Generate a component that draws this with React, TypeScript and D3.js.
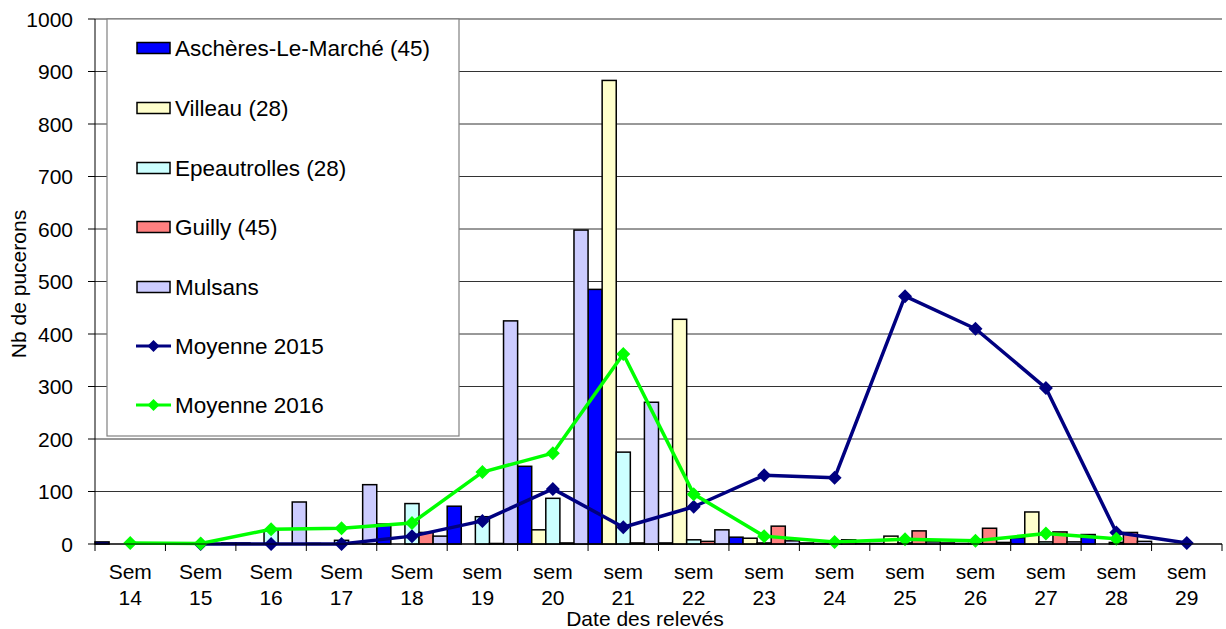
import React from "react";
import * as d3 from "d3";

const categories = ["Sem 14","Sem 15","Sem 16","Sem 17","Sem 18","sem 19","sem 20","sem 21","sem 22","sem 23","sem 24","sem 25","sem 26","sem 27","sem 28","sem 29"];

const seriesNames = ["Aschères-Le-Marché (45)","Villeau (28)","Epeautrolles (28)","Guilly (45)","Mulsans"];
const seriesColors = ["#0000FF","#FFFFCC","#CCFFFF","#FF8080","#CCCCFF"];

const aschereValues = [4, 1, 2, 1, 38, 72, 148, 485, 2, 13, 2, 1, 2, 12, 18, 0];
const villeauValues = [0, 0, 0, 0, 0, 0, 27, 883, 428, 11, 1, 15, 1, 61, 0, 0];
const epeautrollesValues = [0, 0, 26, 7, 77, 52, 87, 175, 8, 2, 1, 2, 1, 4, 3, 0];
const guillyValues = [0, 0, 0, 0, 22, 1, 2, 2, 5, 34, 8, 25, 30, 23, 22, 0];
const mulsansValues = [0, 2, 80, 113, 15, 425, 598, 270, 27, 6, 1, 4, 3, 4, 5, 0];

const moyenne2015: (number | null)[] = [null, 0, 0, 0, 15, 44, 105, 32, 71, 131, 126, 472, 410, 297, 22, 2];
const moyenne2016: (number | null)[] = [2, 1, 28, 30, 40, 137, 173, 362, 95, 15, 4, 9, 6, 20, 10, null];

const yTicks = [0, 100, 200, 300, 400, 500, 600, 700, 800, 900, 1000];

const barSeries = [aschereValues, villeauValues, epeautrollesValues, guillyValues, mulsansValues];

const FONT = "'Liberation Sans', Arial, sans-serif";

export default function App() {
  const left = 95, right = 1222, top = 19, bottom = 544;
  const x = d3.scaleBand<string>().domain(categories).range([left, right]).paddingInner(0).paddingOuter(0);
  const xs = d3.scaleBand<number>().domain(d3.range(seriesNames.length)).range([0, x.bandwidth()]).padding(0);
  const y = d3.scaleLinear().domain([0, 1000]).range([bottom, top]);

  const lineGen = d3.line<[number, number | null]>()
    .defined(d => d[1] !== null)
    .x(d => (x(categories[d[0]]) as number) + x.bandwidth() / 2)
    .y(d => y(d[1] as number));

  const diamond = (cx: number, cy: number, r: number) =>
    `M${cx},${cy - r}L${cx + r},${cy}L${cx},${cy + r}L${cx - r},${cy}Z`;

  const lines = [
    { name: "Moyenne 2015", data: moyenne2015, color: "#000080" },
    { name: "Moyenne 2016", data: moyenne2016, color: "#00FF00" },
  ];

  const legendItems = [
    ...seriesNames.map((n, i) => ({ name: n, type: "bar", color: seriesColors[i] })),
    ...lines.map(l => ({ name: l.name, type: "line", color: l.color })),
  ];
  const legendY = [48, 108, 168, 227, 287, 346, 405];

  return (
    <svg width={1226} height={629} style={{ position: "absolute", left: 0, top: 0, background: "#fff" }} fontFamily={FONT}>
      <rect x={0} y={0} width={1226} height={629} fill="#fff" />
      {yTicks.map(t => (
        <line key={t} x1={left} x2={right} y1={y(t)} y2={y(t)} stroke={t === 0 ? "#000" : "#333"} strokeWidth={1} />
      ))}
      {barSeries.map((vals, si) =>
        vals.map((v, ci) => {
          if (v <= 0) return null;
          const bx = (x(categories[ci]) as number) + (xs(si) as number);
          return (
            <rect key={`${si}-${ci}`} x={bx} y={y(v)} width={xs.bandwidth()} height={bottom - y(v)}
              fill={seriesColors[si]} stroke="#000" strokeWidth={1.5} />
          );
        })
      )}
      {lines.map(l => (
        <g key={l.name}>
          <path d={lineGen(l.data.map((v, i) => [i, v] as [number, number | null])) || ""} fill="none" stroke={l.color} strokeWidth={3.5} strokeLinejoin="round" />
          {l.data.map((v, i) => v === null ? null : (
            <path key={i} d={diamond((x(categories[i]) as number) + x.bandwidth() / 2, y(v), 7)} fill={l.color} />
          ))}
        </g>
      ))}
      <line x1={left} x2={left} y1={top} y2={bottom} stroke="#000" strokeWidth={1} />
      {yTicks.map(t => (
        <g key={t}>
          <line x1={left - 7} x2={left} y1={y(t)} y2={y(t)} stroke="#000" strokeWidth={1} />
          <text x={73} y={y(t)} dy="0.36em" textAnchor="end" fontSize={21} fill="#000">{t}</text>
        </g>
      ))}
      <line x1={left} x2={right} y1={bottom} y2={bottom} stroke="#000" strokeWidth={1} />
      {categories.map((c, i) => {
        const x0 = x(c) as number;
        const parts = c.split(" ");
        return (
          <g key={c}>
            <line x1={x0} x2={x0} y1={bottom} y2={bottom + 7} stroke="#000" strokeWidth={1} />
            {i === categories.length - 1 && <line x1={right} x2={right} y1={bottom} y2={bottom + 7} stroke="#000" />}
            <text x={x0 + x.bandwidth() / 2} y={579} textAnchor="middle" fontSize={21} fill="#000">{parts[0]}</text>
            <text x={x0 + x.bandwidth() / 2} y={605} textAnchor="middle" fontSize={21} fill="#000">{parts[1]}</text>
          </g>
        );
      })}
      <text x={645} y={626} textAnchor="middle" fontSize={21} fill="#000">Date des relevés</text>
      <text transform="translate(26,284) rotate(-90)" textAnchor="middle" fontSize={21} fill="#000">Nb de pucerons</text>
      <rect x={107} y={19} width={352} height={417} fill="#fff" stroke="#808080" strokeWidth={1.2} />
      {legendItems.map((it, i) => {
        const cy = legendY[i];
        return (
          <g key={it.name}>
            {it.type === "bar" ? (
              <rect x={137} y={cy - 5.5} width={33} height={11} fill={it.color} stroke="#000" strokeWidth={1.5} />
            ) : (
              <g>
                <line x1={136} x2={171} y1={cy} y2={cy} stroke={it.color} strokeWidth={3} />
                <path d={diamond(153.5, cy, 6)} fill={it.color} />
              </g>
            )}
            <text x={175} y={cy} dy="0.36em" fontSize={22.5} fill="#000">{it.name}</text>
          </g>
        );
      })}
    </svg>
  );
}
